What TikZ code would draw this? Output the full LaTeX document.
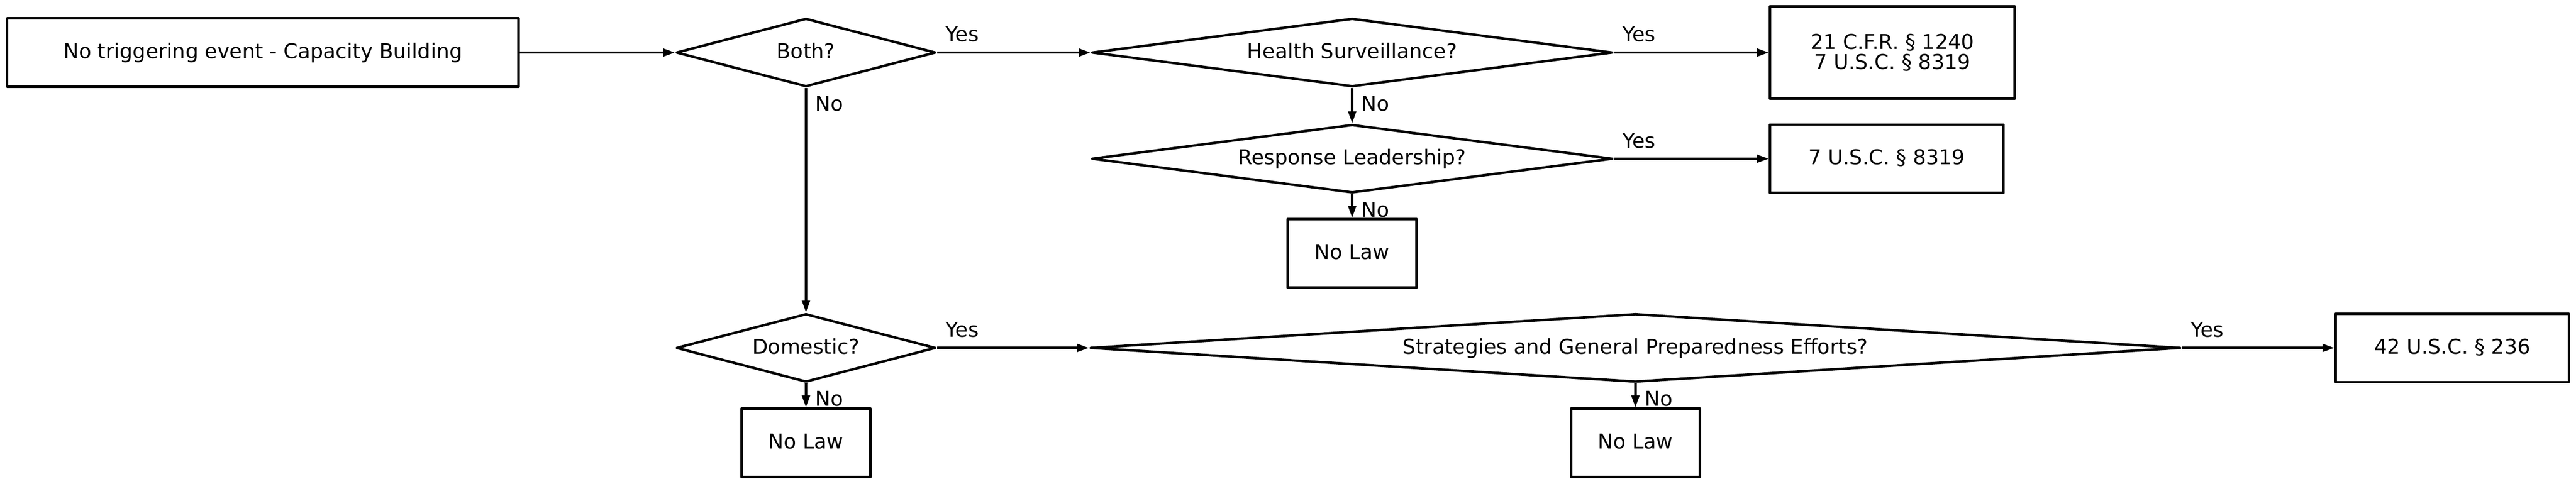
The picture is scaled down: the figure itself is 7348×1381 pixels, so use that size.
\documentclass[tikz,border=0pt]{standalone}
\usepackage{fontspec}
\setmainfont{DejaVu Sans}
\usetikzlibrary{arrows.meta,shapes.geometric}

\tikzset{
  lawbox/.style={draw, rectangle, minimum height=39pt, inner sep=0pt,
    text height=9.2pt, text depth=2.4pt},
  askbox/.style={draw, diamond, aspect=6, minimum height=39pt, inner sep=0pt,
    text height=9.2pt, text depth=2.4pt},
  flowto/.style={-{Triangle[length=6.8pt,width=4.4pt]}},
  yeslbl/.style={pos=0, anchor=base west, inner sep=0pt, xshift=4.4pt, yshift=6.2pt},
  nolbl/.style={pos=0, anchor=base west, inner sep=0pt, xshift=4.6pt, yshift=-13pt}
}

\begin{document}
\begin{tikzpicture}[x=0.2pt, y=0.2pt, yscale=-1, line width=1.4pt, line join=round,
  font=\fontsize{11.66pt}{11.5pt}\selectfont]
\useasboundingbox (0,0) rectangle (7348,1381);

  % question diamonds
  \node[askbox, minimum width=148pt] (both) at (2299,150) {Both?};
  \node[askbox, minimum width=297pt] (health) at (3857,150) {Health Surveillance?};
  \node[askbox, minimum width=297pt] (leader) at (3857,453) {Response Leadership?};
  \node[askbox, minimum width=148pt] (domestic) at (2299,993) {Domestic?};
  \node[askbox, aspect=16, minimum width=622pt] (prepared) at (4665,993)
    {Strategies and General Preparedness Efforts?};

  % boxes
  \node[lawbox, minimum width=291.8pt] (start) at (750,150)
    {No triggering event - Capacity Building};
  \node[draw, rectangle, inner sep=0pt, minimum width=139.6pt, minimum height=52.6pt,
    align=center] (cfr) at (5398,150) {21 C.F.R. § 1240\\7 U.S.C. § 8319};
  \node[lawbox, minimum width=133.2pt] (usc) at (5382,453) {7 U.S.C. § 8319};
  \node[lawbox, minimum width=73.6pt] (nolawA) at (3857,723) {No Law};
  \node[lawbox, minimum width=73.6pt] (nolawB) at (2299,1264) {No Law};
  \node[lawbox, minimum width=73.6pt] (nolawC) at (4665,1264) {No Law};
  \node[lawbox, minimum width=133pt] (phs) at (6995,993) {42 U.S.C. § 236};

  % connectors
  \draw[flowto] (start.east) -- (both.west);
  \draw[flowto] (both.east) -- node[yeslbl] {Yes} (health.west);
  \draw[flowto] (health.east) -- node[yeslbl] {Yes} (cfr.west);
  \draw[flowto] (health.south) -- node[nolbl] {No} (leader.north);
  \draw[flowto] (leader.east) -- node[yeslbl] {Yes} (usc.west);
  \draw[flowto] (leader.south) -- node[nolbl] {No} (nolawA.north);
  \draw[flowto] (both.south) -- node[nolbl] {No} (domestic.north);
  \draw[flowto] (domestic.east) -- node[yeslbl] {Yes} (prepared.west);
  \draw[flowto] (domestic.south) -- node[nolbl] {No} (nolawB.north);
  \draw[flowto] (prepared.east) -- node[yeslbl] {Yes} (phs.west);
  \draw[flowto] (prepared.south) -- node[nolbl] {No} (nolawC.north);
\end{tikzpicture}
\end{document}
